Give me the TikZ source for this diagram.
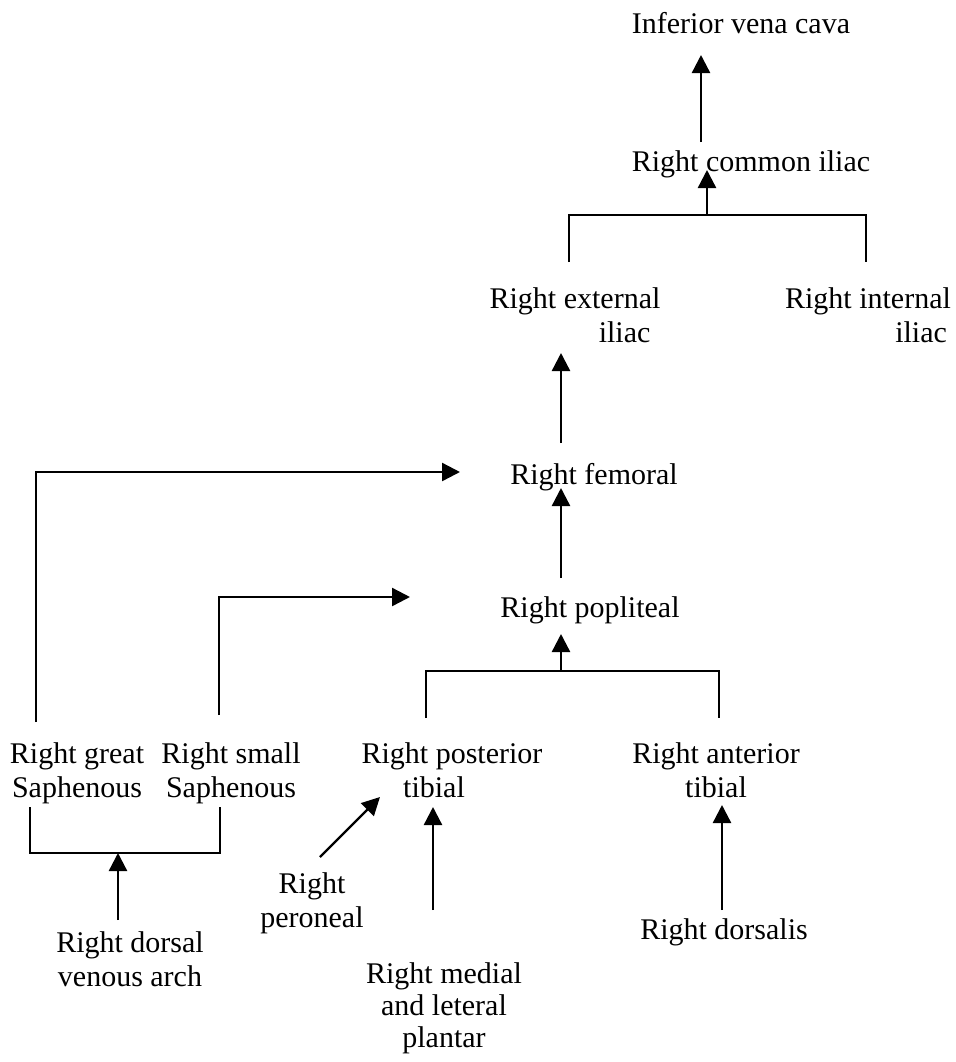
\documentclass[tikz,border=0pt]{standalone}
\usepackage{fontspec}
\setmainfont{Liberation Serif}
\usetikzlibrary{arrows.meta}

\begin{document}
\begin{tikzpicture}[x=0.5pt, y=-0.5pt]
	\tikzstyle{Vein} = [inner sep=0pt, anchor=base, font=\fontsize{15}{17}\selectfont]
	\tikzstyle{Flow} = [line width=1.2pt, -{Triangle[length=9pt, width=9pt]}]
	\tikzstyle{Link} = [line width=1.2pt]

	\useasboundingbox (0,0) rectangle (956,1062);

	% main trunk (base = last line)
	\node (ivc)       at (741,33)  [Vein] {Inferior vena cava};
	\node (comIliac)  at (751,171) [Vein] {Right common iliac};
	\node (extIliac)  at (575,342) [Vein, align=right] {Right external\\iliac\hspace*{5pt}};
	\node (intIliac)  at (868,342) [Vein, align=right] {Right internal\\iliac\hspace*{2pt}};
	\node (femoral)   at (594,484) [Vein] {Right femoral};
	\node (popliteal) at (590,617) [Vein] {Right popliteal};

	% leg veins
	\node (greatSaph) at (77,797)  [Vein, align=center] {Right great\\Saphenous};
	\node (smallSaph) at (231,797) [Vein, align=center] {Right small\\Saphenous};
	\node (postTib)   at (452,797) [Vein, align=center] {Right posterior\\tibial\hspace*{18pt}};
	\node (antTib)    at (716,797) [Vein, align=center] {Right anterior\\tibial};

	% foot veins
	\node (dorsArch)  at (130,986)  [Vein, align=center] {Right dorsal\\venous arch};
	\node (peroneal)  at (312,927)  [Vein, align=center] {Right\\peroneal};
	\node (plantar)   at (444,1047) [Vein, align=center] {Right medial\\[-1pt]and leteral\\[-1pt]plantar};
	\node (dorsalis)  at (724,939)  [Vein] {Right dorsalis};

	% junctions of the brackets
	\coordinate (iliacJoin) at (707,215);
	\coordinate (tibJoin)   at (561,671);
	\coordinate (saphJoin)  at (118,853);

	\draw [Flow] ([shift={(-50,-29)}]comIliac.base) to ([shift={(-40,22)}]ivc.base);

	\draw [Link] ([shift={(-6,-80)}]extIliac.base) |- (iliacJoin) -| ([shift={(-2,-80)}]intIliac.base);
	\draw [Flow] (iliacJoin) to ([shift={(-44,-1)}]comIliac.base);

	\draw [Flow] ([shift={(-33,-41)}]femoral.base) to ([shift={(-14,11)}]extIliac.base);
	\draw [Flow] ([shift={(-29,-39)}]popliteal.base) to ([shift={(-33,4)}]femoral.base);

	\draw [Link] ([shift={(-26,-79)}]postTib.base) |- (tibJoin) -| ([shift={(3,-79)}]antTib.base);
	\draw [Flow] (tibJoin) to ([shift={(-29,17)}]popliteal.base);

	% saphenous veins bypass to the deep veins
	\draw [Flow] ([shift={(-41,-75)}]greatSaph.base) |- ([shift={(-134,-12)}]femoral.base);
	\draw [Flow] ([shift={(-12,-82)}]smallSaph.base) |- ([shift={(-180,-20)}]popliteal.base);

	\draw [Link] ([shift={(-47,10)}]greatSaph.base) |- (saphJoin) -| ([shift={(-11,10)}]smallSaph.base);
	\draw [Flow] ([shift={(-12,-66)}]dorsArch.base) to (saphJoin);

	\draw [Flow] ([shift={(8,-70)}]peroneal.base) to ([shift={(-72,0)}]postTib.base);
	\draw [Flow] ([shift={(-11,-137)}]plantar.base) to ([shift={(-19,10)}]postTib.base);
	\draw [Flow] ([shift={(-2,-29)}]dorsalis.base) to ([shift={(6,8)}]antTib.base);
\end{tikzpicture}
\end{document}
